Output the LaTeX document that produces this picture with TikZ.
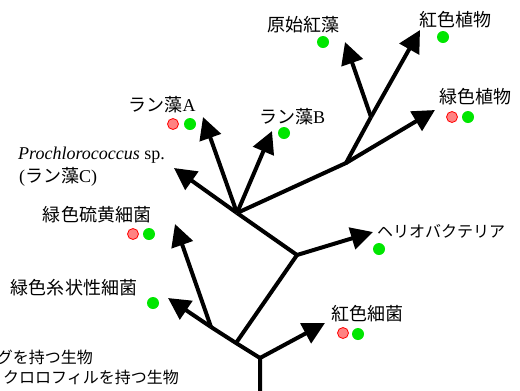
\documentclass[tikz,border=0pt]{standalone}
\usepackage{fontspec}
\setmainfont{Liberation Serif}
\newfontfamily\jp{Noto Sans CJK JP}
\usetikzlibrary{arrows.meta}
\begin{document}
\begin{tikzpicture}[x=1bp,y=-1bp,
  br/.style={line width=4bp},
  arr/.style={line width=4bp,-{Triangle[length=22bp,width=22bp]}},
  lbl/.style={inner sep=0pt,font=\fontsize{18bp}{20bp}\selectfont},
  leg/.style={inner sep=0pt,font=\fontsize{16bp}{18bp}\selectfont\jp},
  gdot/.style={circle,fill={rgb,255:red,0;green,230;blue,0},inner sep=0pt,minimum size=12bp},
  rdot/.style={circle,fill={rgb,255:red,255;green,130;blue,130},draw=red,line width=0.8bp,inner sep=0pt,minimum size=11bp}]
\useasboundingbox (0,0) rectangle (520,390);
% junctions
\coordinate (base) at (260,392);
\coordinate (r) at (260,358);
\coordinate (j1) at (236,343);
\coordinate (j2) at (211,327);
\coordinate (j3) at (297,255);
\coordinate (j4) at (237,213);
\coordinate (j5) at (346,163);
\coordinate (j6) at (371,117);
% tips
\coordinate (tGF) at (168,298);
\coordinate (tGS) at (175,224);
\coordinate (tPB) at (325,323);
\coordinate (tHB) at (373,232);
\coordinate (tPC) at (174,168);
\coordinate (tCA) at (203,117);
\coordinate (tCB) at (272,131);
\coordinate (tGP) at (435,110);
\coordinate (tPR) at (345,42);
\coordinate (tRP) at (420,30);
% branches
\draw[br] (base) -- (r) -- (j1) -- (j2);
\draw[br] (j1) -- (j3) -- (j4);
\draw[br] (j4) -- (j5) -- (j6);
\draw[arr] (j2) -- (tGF);
\draw[arr] (j2) -- (tGS);
\draw[arr] (r) -- (tPB);
\draw[arr] (j3) -- (tHB);
\draw[arr] (j4) -- (tPC);
\draw[arr] (j4) -- (tCA);
\draw[arr] (j4) -- (tCB);
\draw[arr] (j5) -- (tGP);
\draw[arr] (j6) -- (tPR);
\draw[arr] (j6) -- (tRP);
% labels
\node[lbl] (lPR) at (303,25) {\jp 原始紅藻};
\node[lbl] (lRP) at (455,20) {\jp 紅色植物};
\node[lbl] (lGP) at (475,97) {\jp 緑色植物};
\node[lbl] (lCB) at (292,117) {{\jp ラン藻}B};
\node[lbl] (lCA) at (162,105) {{\jp ラン藻}A};
\node[lbl,anchor=west] (lPC) at (18,155) {\textit{Prochlorococcus} sp.};
\node[lbl,anchor=west] (lPC2) at (19,177) {({\jp ラン藻}C)};
\node[lbl] (lGS) at (97,215) {\jp 緑色硫黄細菌};
\node[lbl] (lGF) at (74,288) {\jp 緑色糸状性細菌};
\node[lbl] (lPB) at (367,314) {\jp 紅色細菌};
\node[lbl,font=\fontsize{16bp}{18bp}\selectfont,anchor=west] (lHB) at (377,231) {\jp ヘリオバクテリア};
\node[leg,anchor=east] (lg1) at (93,357) {グを持つ生物};
\node[leg,anchor=west] (lg2) at (3,377) {クロロフィルを持つ生物};
% dots
\node[gdot] (dPR) at (323,42) {};
\node[gdot] (dRP) at (443,37) {};
\node[rdot] (dGPr) at (452,117) {};
\node[gdot] (dGPg) at (468,117) {};
\node[gdot] (dCB) at (284,133) {};
\node[rdot] (dCAr) at (173,124) {};
\node[gdot] (dCAg) at (190,124) {};
\node[rdot] (dGSr) at (133,234) {};
\node[gdot] (dGSg) at (149,234) {};
\node[gdot] (dGF) at (153,303) {};
\node[gdot] (dHB) at (379,249) {};
\node[rdot] (dPBr) at (343,333) {};
\node[gdot] (dPBg) at (358,334) {};
\end{tikzpicture}
\end{document}
